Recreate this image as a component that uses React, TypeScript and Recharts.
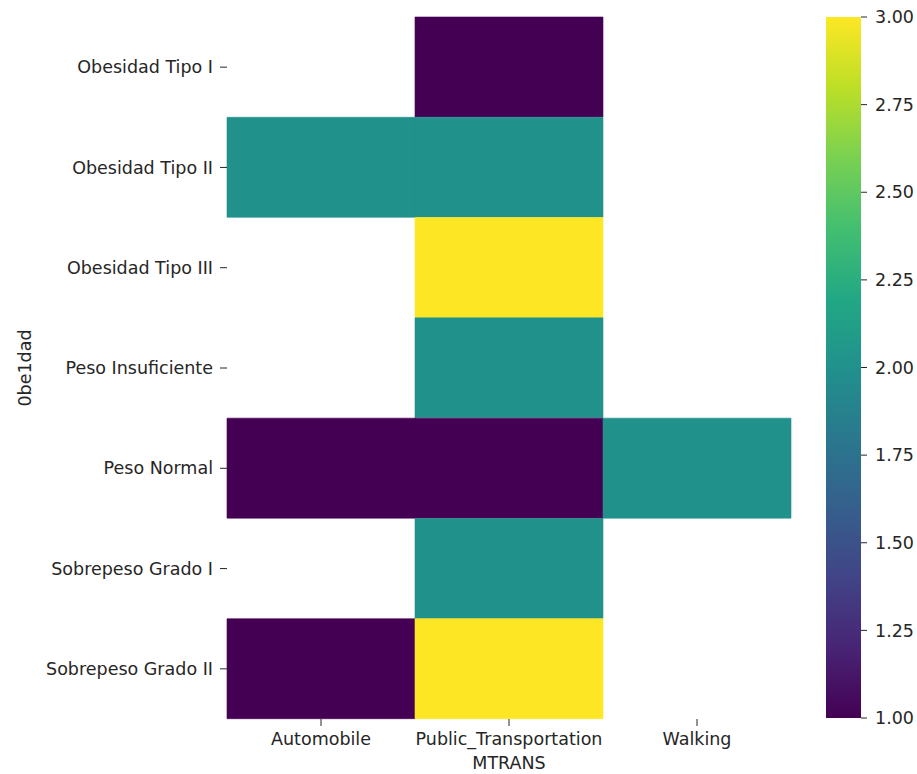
import { BarChart, Bar, XAxis, YAxis, Cell } from "recharts";

const ROWS = [
  "Obesidad Tipo I",
  "Obesidad Tipo II",
  "Obesidad Tipo III",
  "Peso Insuficiente",
  "Peso Normal",
  "Sobrepeso Grado I",
  "Sobrepeso Grado II",
];
const COLS = ["Automobile", "Public_Transportation", "Walking"];

// cell values per column (null = no data)
const AUTOMOBILE = [null, 2, null, null, 1, null, 1];
const PUBLIC_TRANSPORT = [1, 2, 3, 2, 1, 2, 3];
const WALKING = [null, null, null, null, 2, null, null];

const CBAR_TICKS = [1, 1.25, 1.5, 1.75, 2, 2.25, 2.5, 2.75, 3];

const VIRIDIS = [
  "#440154", "#482475", "#414487", "#355f8d", "#2a788e", "#21918c",
  "#22a884", "#44bf70", "#7ad151", "#bddf26", "#fde725",
];

const colorFor = (v: number | null) => {
  if (v == null) return "none";
  const t = (v - 1) / 2;
  return VIRIDIS[Math.round(t * 10)];
};

const data = ROWS.map((name) => ({ name, a: 1, p: 1, w: 1 }));
const cbData = [{ name: "cb", range: [1, 3] }];

const FONT = "DejaVu Sans";
const FS = 17.5;
const TICK = { fontSize: FS, fill: "#262626", fontFamily: FONT };

const YLabel = (props: any) => {
  const vb = props.viewBox || {};
  const cy = vb.y + vb.height / 2;
  return (
    <text
      x={25}
      y={cy}
      transform={`rotate(-90 25 ${cy})`}
      textAnchor="middle"
      dominantBaseline="central"
      fontSize={FS}
      fill="#262626"
      fontFamily={FONT}
    >
      0be1dad
    </text>
  );
};

const cells = (vals: (number | null)[]) =>
  vals.map((v, i) => (
    <Cell key={i} fill={colorFor(v)} stroke={colorFor(v)} strokeWidth={0.6} />
  ));

export default function App() {
  return (
    <div
      style={{
        position: "relative",
        width: 917,
        height: 774,
        background: "#fff",
        fontFamily: FONT,
        overflow: "hidden",
      }}
    >
      <style>{"body{margin:0;overflow:hidden}"}</style>
      <div style={{ position: "absolute", left: 0, top: 0 }}>
        <BarChart
          width={800}
          height={774}
          data={data}
          layout="vertical"
          barCategoryGap={0}
          margin={{ top: 17, right: 9, bottom: 0, left: 0 }}
        >
          <XAxis
            type="number"
            domain={[0, 3]}
            ticks={[0.5, 1.5, 2.5]}
            tickFormatter={(v: number) => COLS[Math.floor(v)]}
            height={55}
            tick={TICK}
            tickSize={7}
            tickMargin={7}
            axisLine={false}
            tickLine={{ stroke: "#262626" }}
            interval={0}
            label={{
              value: "MTRANS",
              position: "insideBottom",
              offset: 5,
              fontSize: FS,
              fill: "#262626",
              fontFamily: FONT,
            }}
          />
          <YAxis
            type="category"
            dataKey="name"
            width={227}
            tick={TICK}
            tickSize={7}
            tickMargin={7}
            axisLine={false}
            tickLine={{ stroke: "#262626" }}
            interval={0}
            label={<YLabel />}
          />
          <Bar dataKey="a" stackId="s" isAnimationActive={false}>
            {cells(AUTOMOBILE)}
          </Bar>
          <Bar dataKey="p" stackId="s" isAnimationActive={false}>
            {cells(PUBLIC_TRANSPORT)}
          </Bar>
          <Bar dataKey="w" stackId="s" isAnimationActive={false}>
            {cells(WALKING)}
          </Bar>
        </BarChart>
      </div>

      <div style={{ position: "absolute", left: 826, top: 0 }}>
        <BarChart
          width={91}
          height={774}
          data={cbData}
          barCategoryGap={0}
          margin={{ top: 17, right: 0, bottom: 56, left: 0 }}
        >
          <defs>
            <linearGradient id="viridis" x1="0" y1="0" x2="0" y2="1">
              {VIRIDIS.slice()
                .reverse()
                .map((c, i) => (
                  <stop key={i} offset={`${i * 10}%`} stopColor={c} />
                ))}
            </linearGradient>
          </defs>
          <XAxis dataKey="name" hide />
          <YAxis
            orientation="right"
            type="number"
            domain={[1, 3]}
            ticks={CBAR_TICKS}
            tickFormatter={(v: number) => v.toFixed(2)}
            width={56}
            tick={{ ...TICK, textAnchor: "start" }}
            tickSize={6}
            tickMargin={8}
            axisLine={false}
            tickLine={{ stroke: "#262626" }}
            interval={0}
          />
          <Bar dataKey="range" fill="url(#viridis)" isAnimationActive={false} />
        </BarChart>
      </div>
    </div>
  );
}
